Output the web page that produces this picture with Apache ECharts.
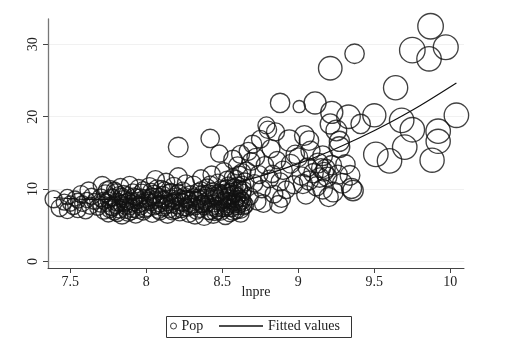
<!DOCTYPE html>
<html>
<head>
<meta charset="utf-8">
<script src="https://cdn.jsdelivr.net/npm/echarts@6/dist/echarts.min.js"></script>
<style>
  html, body { margin: 0; padding: 0; background: #ffffff; }
  #chart { width: 526px; height: 345px; }
</style>
</head>
<body>
<div id="chart"></div>
<script>
// Observations: log precipitation (lnpre), population (Pop) and analytic weight.
const lnpre = [
  7.39,7.43,7.46,7.48,7.50,7.52,7.53,7.55,7.57,7.58,7.60,7.61,7.63,7.64,7.66,7.48,7.55,7.62,
  7.68,7.70,7.71,7.72,7.73,7.74,7.75,7.76,7.77,7.78,7.79,7.80,7.81,7.82,7.83,7.84,7.85,7.86,7.87,7.88,7.89,7.90,7.91,7.92,7.93,7.94,7.95,7.96,7.97,7.98,7.99,
  7.75,7.79,7.83,7.87,7.91,7.95,7.70,7.85,7.93,
  7.78,7.81,7.84,7.88,7.90,7.96,7.99,
  8.01,8.02,8.03,8.04,8.05,8.06,8.07,8.08,8.09,8.10,8.11,8.12,8.13,8.14,8.15,8.16,8.17,8.18,8.19,8.20,8.21,8.22,8.23,8.24,8.25,8.26,8.27,8.28,8.29,8.30,
  8.03,8.08,8.12,8.17,8.22,8.27,8.14,8.25,8.06,8.19,
  8.21,
  8.02,8.05,8.10,8.15,8.20,8.24,8.28,
  8.31,8.32,8.33,8.34,8.35,8.36,8.37,8.38,8.39,8.40,8.41,8.42,8.43,8.44,8.45,8.46,8.47,8.48,8.49,8.50,8.51,8.52,8.53,8.54,8.55,8.56,8.57,8.58,8.59,8.60,8.61,8.62,8.63,8.64,8.65,
  8.34,8.38,8.42,8.46,8.50,8.54,8.58,8.62,8.36,8.44,8.52,8.60,
  8.57,8.62,8.48,8.42,
  8.50,8.52,8.53,8.55,8.56,8.57,8.58,8.59,8.60,8.61,8.62,8.63,8.64,8.55,8.59,8.63,8.47,8.49,8.45,8.41,8.39,8.43,8.32,8.35,
  7.72,7.74,7.76,7.77,7.80,7.82,7.86,7.89,7.92,7.94,7.97,7.98,
  8.01,8.04,8.07,8.09,8.11,8.13,8.16,8.18,8.21,8.23,8.26,8.29,
  8.31,8.33,8.36,8.37,8.40,8.42,8.44,8.46,8.48,8.51,8.53,8.54,8.56,8.58,8.60,8.61,8.63,8.64,8.65,8.57,8.53,8.61,
  8.66,8.67,8.68,8.69,8.70,8.71,8.72,8.73,8.74,8.75,8.76,8.77,8.78,8.79,8.80,8.81,8.82,8.83,8.84,8.85,8.86,8.87,8.88,8.89,8.90,8.92,8.94,8.95,8.97,8.98,8.88,9.006,
  9.00,9.02,9.03,9.04,9.05,9.06,9.07,9.07,9.08,9.10,9.11,9.12,9.13,9.14,9.15,9.16,9.17,9.18,9.19,9.20,9.21,9.21,9.22,9.22,9.23,9.25,9.26,9.27,9.27,9.29,9.31,9.33,9.34,9.35,9.36,9.37,9.16,
  9.41,9.50,9.51,9.60,9.64,9.68,9.70,9.75,9.75,9.86,9.87,9.97,9.88,9.92,9.92,10.04
];
const pop = [
  8.6,7.4,8.2,7.0,8.0,7.6,8.7,7.2,9.3,8.0,7.0,8.5,7.7,9.0,8.3,8.9,8.4,9.8,
  7.5,8.8,10.5,7.0,9.4,8.1,6.6,10.0,7.6,8.8,6.9,9.6,8.2,7.2,10.3,6.4,8.6,7.7,9.2,6.8,10.6,8.0,7.3,9.0,6.5,8.4,10.1,7.6,9.5,6.9,8.7,
  8.5,9.9,8.0,7.1,9.6,7.9,7.9,9.4,8.9,
  7.4,6.7,9.0,8.3,6.9,8.9,7.2,
  7.4,10.4,8.2,6.6,9.3,11.3,7.8,8.9,6.9,10.0,7.5,8.5,11.0,6.5,9.5,7.9,8.7,10.4,7.1,9.0,11.7,6.8,8.2,9.8,7.5,10.8,8.6,6.6,9.3,7.9,
  9.7,7.1,9.9,6.9,8.8,7.4,8.1,9.1,8.5,8.4,
  15.8,
  8.8,7.6,8.6,7.2,7.7,8.1,8.0,
  10.6,6.4,8.4,9.6,7.3,11.5,8.0,6.2,9.1,10.2,7.0,8.7,12.0,6.5,9.4,7.7,10.9,8.3,6.9,9.9,12.4,7.4,8.8,10.5,6.7,9.2,11.6,7.9,8.6,13.2,10.0,7.2,9.5,8.1,11.0,
  8.9,7.6,10.7,8.9,7.3,8.4,10.3,8.7,9.9,8.0,9.6,7.6,
  14.1,14.8,14.9,17.0,
  8.1,6.3,10.1,7.9,8.7,6.9,9.4,7.1,9.0,8.2,6.6,10.6,7.6,9.7,11.4,12.3,7.0,9.0,6.8,9.4,8.3,7.5,7.6,8.6,
  8.4,9.9,7.2,8.9,7.8,9.2,8.1,7.6,8.2,7.1,8.1,9.9,
  8.4,9.0,10.1,8.0,9.2,7.7,9.6,8.3,9.5,7.2,8.7,7.6,
  8.9,7.0,7.9,9.4,8.0,6.9,9.7,7.3,9.5,8.5,7.6,9.1,7.4,8.2,10.5,7.9,8.4,9.9,7.8,10.2,11.3,12.0,
  12.5,15.2,9.0,13.8,16.2,10.8,14.4,8.3,12.0,16.9,10.0,8.0,13.3,18.8,18.2,11.4,15.6,12.1,9.3,17.9,14.0,7.9,11.0,8.7,12.6,9.9,16.7,13.5,10.6,14.8,21.9,21.4,
  14.4,11.8,10.7,17.4,9.2,13.0,11.2,16.7,15.3,12.2,21.9,10.4,13.6,11.6,12.9,10.0,12.4,12.8,11.7,8.9,26.7,19.0,20.6,13.3,9.6,18.1,12.0,16.6,15.8,10.8,13.4,20.0,11.9,10.1,9.8,28.7,14.6,
  19.0,20.2,14.8,13.9,24.0,19.5,15.8,18.2,29.2,28.0,32.5,29.6,14.0,16.6,18.0,20.2
];
const weight = [
  45,45,40,38,36,40,35,42,45,38,40,36,44,40,38,36,34,45,
  40,48,50,42,45,44,42,46,48,44,45,42,50,46,44,48,46,44,42,50,44,46,48,44,46,42,48,44,46,44,48,
  40,38,40,42,40,44,38,40,42,
  42,44,42,44,42,42,44,
  44,46,44,46,48,50,44,46,44,46,48,44,46,48,44,46,44,48,46,44,50,46,48,44,46,44,48,46,44,46,
  40,42,40,42,40,42,38,40,42,42,
  60,
  42,44,42,44,42,44,42,
  46,48,44,46,48,44,46,48,44,46,48,44,46,48,44,46,44,48,46,44,50,46,48,44,46,48,46,44,48,50,46,48,46,44,48,
  40,42,40,42,40,42,44,42,40,42,40,42,
  52,50,46,52,
  44,46,44,46,44,46,44,48,44,46,44,46,44,42,46,48,44,46,42,44,44,42,44,42,
  44,42,44,42,44,42,44,42,44,42,44,42,
  44,42,44,42,44,42,44,42,44,42,44,42,
  44,42,44,42,44,42,44,42,44,42,44,42,44,42,44,42,44,42,44,42,44,46,
  48,50,46,48,50,46,48,46,50,48,46,48,46,44,46,48,50,46,48,50,46,48,50,48,52,48,70,54,50,52,58,23,
  54,52,56,60,52,54,56,58,56,58,75,56,60,58,56,60,54,56,58,56,85,62,75,58,60,66,56,62,66,60,58,85,60,62,64,58,60,
  58,82,92,92,90,92,92,92,100,92,100,95,90,90,92,92
];

// Quadratic fitted values along lnpre
const fitX = [7.39, 7.6, 7.8, 8.0, 8.2, 8.4, 8.6, 8.8, 9.0, 9.2, 9.4, 9.6, 9.8, 10.04];
const fitY = [8.84, 8.59, 8.58, 8.82, 9.28, 9.99, 10.93, 12.11, 13.52, 15.17, 17.05, 19.17, 21.52, 24.66];

// Axis tick labels
const xTicks = [7.5, 8, 8.5, 9, 9.5, 10];
const yTicks = [0, 10, 20, 30];

const serif = 'Liberation Serif';
const ink = '#111';
const axisInk = '#444';

const scatterData = lnpre.map((x, i) => [x, pop[i], weight[i]]);
const fitData = fitX.map((x, i) => [x, fitY[i]]);

const chart = echarts.init(document.getElementById('chart'), null, { renderer: 'canvas' });

chart.setOption({
  animation: false,
  backgroundColor: '#ffffff',
  grid: { left: 48, right: 62, top: 19, bottom: 77, containLabel: false },
  xAxis: {
    type: 'value',
    min: 7.353,
    max: 10.09,
    name: 'lnpre',
    nameLocation: 'middle',
    nameGap: 24,
    nameMoveOverlap: false,
    nameTextStyle: { fontFamily: serif, fontSize: 14, color: '#222', verticalAlign: 'middle' },
    axisLine: { onZero: false, lineStyle: { color: axisInk, width: 1 } },
    axisTick: { show: true, length: 5, customValues: xTicks, lineStyle: { color: axisInk, width: 1 } },
    axisLabel: { customValues: xTicks, fontFamily: serif, fontSize: 14, color: '#222', margin: 7 },
    splitLine: { show: false }
  },
  yAxis: {
    type: 'value',
    min: -0.9,
    max: 33.5,
    axisLine: { show: true, onZero: false, lineStyle: { color: '#777', width: 1.3 } },
    axisTick: { show: true, length: 5, customValues: yTicks, lineStyle: { color: axisInk, width: 1 } },
    axisLabel: { customValues: yTicks, rotate: 90, fontFamily: serif, fontSize: 14, color: '#222', margin: 8 },
    splitLine: { show: true, lineStyle: { color: '#f1f1f1', width: 1 } }
  },
  legend: [
    {
      data: [{ name: 'Pop', icon: 'circle', itemStyle: { color: 'rgba(0,0,0,0)', borderColor: ink, borderWidth: 1 } }],
      left: 165, top: 314,
      itemWidth: 6, itemHeight: 6,
      selectedMode: false,
      textStyle: { fontFamily: serif, fontSize: 14, color: '#222' }
    },
    {
      data: [{ name: 'Fitted values', icon: 'rect', itemStyle: { color: ink, borderWidth: 0 } }],
      left: 214, top: 314,
      itemWidth: 44, itemHeight: 1.3,
      selectedMode: false,
      textStyle: { fontFamily: serif, fontSize: 14, color: '#222' }
    }
  ],
  graphic: [
    {
      type: 'rect',
      z: 0,
      shape: { x: 166.5, y: 316.5, width: 185, height: 21 },
      style: { fill: '#ffffff', stroke: '#333', lineWidth: 1 }
    }
  ],
  series: [
    {
      name: 'Pop',
      type: 'scatter',
      data: scatterData,
      symbol: 'circle',
      symbolSize: (d) => Math.sqrt(d[2]) * 2.55,
      itemStyle: { color: 'rgba(0,0,0,0)', borderColor: ink, borderWidth: 1.35 },
      emphasis: { disabled: true },
      z: 2
    },
    {
      name: 'Fitted values',
      type: 'line',
      data: fitData,
      symbol: 'none',
      smooth: 0.3,
      lineStyle: { color: ink, width: 1.2 },
      emphasis: { disabled: true },
      z: 3
    }
  ]
});
</script>
</body>
</html>
